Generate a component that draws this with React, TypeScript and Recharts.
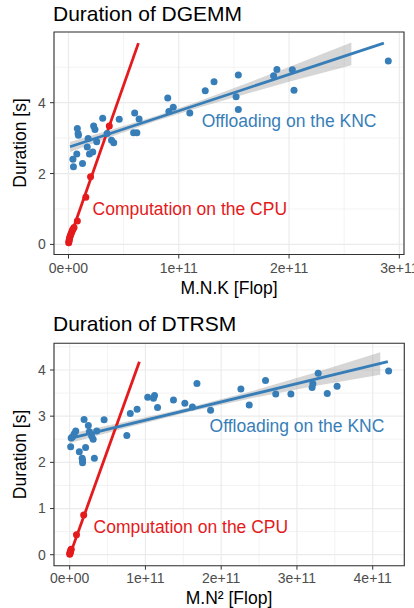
import React from 'react';
import {
  ComposedChart,
  Scatter,
  Line,
  Area,
  XAxis,
  YAxis,
  CartesianGrid,
  ReferenceArea,
  ReferenceDot,
} from 'recharts';

const BLUE = '#377EB8';
const RED = '#E41A1C';
const FONT = '"Liberation Sans", Arial, Helvetica, sans-serif';

// ---------- DGEMM (x: M.N.K in units of 1e11 Flop, y: duration in s) ----------
const dgemmKncX = [0.04, 0.045, 0.08, 0.087, 0.09, 0.075, 0.127, 0.178, 0.17, 0.19, 0.22, 0.228, 0.24, 0.256, 0.31, 0.35, 0.39, 0.41, 0.46, 0.6, 0.59, 0.62, 0.64, 0.9, 0.91, 0.95, 1.1, 1.24, 1.32, 1.52, 1.54, 1.54, 1.86, 1.89, 2.03, 2.045, 2.9];
const dgemmKncY = [2.4, 2.19, 3.27, 3.13, 3.08, 2.55, 2.28, 2.99, 2.75, 2.55, 2.61, 3.34, 3.24, 2.9, 3.56, 3.13, 2.94, 2.87, 3.53, 3.71, 3.15, 3.15, 3.54, 4.13, 3.75, 3.87, 3.71, 4.34, 4.59, 4.17, 4.78, 3.81, 4.76, 4.94, 4.93, 4.35, 5.18];
const dgemmCpuX = [0.002, 0.004, 0.007, 0.01, 0.015, 0.02, 0.027, 0.033, 0.04, 0.05, 0.08, 0.157, 0.2, 0.37];
const dgemmCpuY = [0.05, 0.09, 0.13, 0.18, 0.23, 0.28, 0.33, 0.38, 0.43, 0.48, 0.66, 1.33, 1.91, 3.34];
const dgemmKncFitX = [0.014, 2.86];
const dgemmKncFitY = [2.755, 5.68];
const dgemmCpuFitX = [0, 0.634];
const dgemmCpuFitY = [0.07, 5.68];
const dgemmBandX = [0.014, 0.4, 0.8, 1.2, 1.6, 2.0, 2.565];
const dgemmBandLo = [2.61, 3.05, 3.49, 3.88, 4.24, 4.59, 5.06];
const dgemmBandHi = [2.89, 3.25, 3.63, 4.06, 4.53, 5.01, 5.7];
const dgemmXTicks = [0, 1, 2, 3];
const dgemmXMinor = [0.5, 1.5, 2.5];
const dgemmYTicks = [0, 2, 4];
const dgemmYMinor = [1, 3, 5];

// ---------- DTRSM (x: M.N² in units of 1e11 Flop, y: duration in s) ----------
const dtrsmKncX = [0.013, 0.02, 0.035, 0.06, 0.08, 0.127, 0.165, 0.17, 0.17, 0.19, 0.21, 0.246, 0.26, 0.29, 0.31, 0.326, 0.357, 0.454, 0.754, 0.8, 0.89, 1.03, 1.106, 1.12, 1.16, 1.37, 1.52, 1.62, 1.68, 1.86, 2.26, 2.37, 2.585, 2.72, 2.92, 3.2, 3.21, 3.28, 3.4, 3.53, 4.21];
const dtrsmKncY = [2.34, 2.53, 2.55, 2.62, 2.68, 2.23, 2.09, 1.99, 2.04, 2.93, 2.32, 2.8, 2.66, 2.57, 2.5, 2.09, 2.68, 2.92, 2.58, 3.06, 3.15, 3.41, 3.39, 3.45, 3.19, 3.35, 3.28, 3.2, 3.71, 3.13, 3.59, 3.24, 3.77, 3.48, 3.48, 3.62, 3.7, 3.93, 3.49, 3.65, 3.98];
const dtrsmCpuX = [0.001, 0.003, 0.006, 0.01, 0.015, 0.02, 0.09, 0.185];
const dtrsmCpuY = [0.01, 0.03, 0.05, 0.07, 0.1, 0.12, 0.43, 0.86];
const dtrsmKncFitX = [0.005, 4.2];
const dtrsmKncFitY = [2.52, 4.18];
const dtrsmCpuFitX = [0, 0.92];
const dtrsmCpuFitY = [-0.02, 4.18];
const dtrsmBandX = [0.005, 0.8, 1.6, 2.4, 3.2, 4.1];
const dtrsmBandLo = [2.42, 2.77, 3.1, 3.39, 3.645, 3.895];
const dtrsmBandHi = [2.62, 2.9, 3.2, 3.54, 3.925, 4.385];
const dtrsmXTicks = [0, 1, 2, 3, 4];
const dtrsmXMinor = [0.5, 1.5, 2.5, 3.5];
const dtrsmYTicks = [0, 1, 2, 3, 4];
const dtrsmYMinor = [0.5, 1.5, 2.5, 3.5, 4.5];

const zip = (xs: number[], ys: number[]) => xs.map((x, i) => ({ x, y: ys[i] }));
const band = (xs: number[], lo: number[], hi: number[]) => xs.map((x, i) => ({ x, lo: lo[i], hi: hi[i] }));

const fmtX = (v: number) => (v === 0 ? '0e+00' : `${v}e+11`);

const dotShape = (color: string) => (props: any) => (
  <circle cx={props.cx} cy={props.cy} r={3.5} fill={color} />
);

type PanelProps = {
  height: number;
  top: number;
  right: number;
  xAxisHeight: number;
  tickMarginX: number;
  xDomain: [number, number];
  yDomain: [number, number];
  xTicks: number[];
  xMinor: number[];
  yTicks: number[];
  yMinor: number[];
  knc: { x: number; y: number }[];
  cpu: { x: number; y: number }[];
  kncFit: { x: number; y: number }[];
  cpuFit: { x: number; y: number }[];
  ribbon: { x: number; lo: number; hi: number }[];
  kncLabel: { x: number; y: number };
  cpuLabel: { x: number; y: number };
};

const Panel = (p: PanelProps) => (
  <ComposedChart
    width={414}
    height={p.height}
    data={p.ribbon}
    margin={{ top: p.top, right: p.right, bottom: 0, left: 0 }}
  >
    <CartesianGrid
      stroke="#ebebeb"
      strokeWidth={0.6}
      horizontalValues={p.yMinor}
      verticalValues={p.xMinor}
    />
    <CartesianGrid stroke="#ebebeb" strokeWidth={1.2} />
    <XAxis
      type="number"
      dataKey="x"
      domain={p.xDomain}
      allowDataOverflow
      ticks={p.xTicks}
      interval={0}
      tickFormatter={fmtX}
      height={p.xAxisHeight}
      tickSize={4}
      tickMargin={p.tickMarginX}
      axisLine={false}
      tickLine={{ stroke: '#333333', strokeWidth: 1 }}
      tick={{ fill: '#4d4d4d', fontSize: 14 }}
    />
    <YAxis
      type="number"
      dataKey="y"
      domain={p.yDomain}
      allowDataOverflow
      ticks={p.yTicks}
      interval={0}
      width={54}
      tickSize={4}
      tickMargin={4.3}
      axisLine={false}
      tickLine={{ stroke: '#333333', strokeWidth: 1 }}
      tick={{ fill: '#4d4d4d', fontSize: 14 }}
    />
    <Scatter data={p.knc} dataKey="y" shape={dotShape(BLUE)} isAnimationActive={false} />
    <Scatter data={p.cpu} dataKey="y" shape={dotShape(RED)} isAnimationActive={false} />
    <Area
      dataKey={(d: any) => [d.lo, d.hi]}
      type="linear"
      stroke="none"
      fill="#999999"
      fillOpacity={0.4}
      isAnimationActive={false}
      activeDot={false}
    />
    <Line data={p.cpuFit} dataKey="y" type="linear" stroke={RED} strokeWidth={2.8} dot={false} activeDot={false} isAnimationActive={false} />
    <Line data={p.kncFit} dataKey="y" type="linear" stroke={BLUE} strokeWidth={2.8} dot={false} activeDot={false} isAnimationActive={false} />
    <ReferenceDot
      x={p.kncLabel.x}
      y={p.kncLabel.y}
      r={0}
      fill="none"
      stroke="none"
      label={{ value: 'Offloading on the KNC', position: 'center', fill: BLUE, fontSize: 17.5 }}
    />
    <ReferenceDot
      x={p.cpuLabel.x}
      y={p.cpuLabel.y}
      r={0}
      fill="none"
      stroke="none"
      label={{ value: 'Computation on the CPU', position: 'center', fill: RED, fontSize: 17.5 }}
    />
    <ReferenceArea
      x1={p.xDomain[0]}
      x2={p.xDomain[1]}
      y1={p.yDomain[0]}
      y2={p.yDomain[1]}
      fill="none"
      fillOpacity={0}
      stroke="#333333"
      strokeWidth={1.1}
      ifOverflow="visible"
    />
  </ComposedChart>
);

export default function App() {
  return (
    <div
      style={{
        position: 'absolute',
        left: 0,
        top: 0,
        width: 414,
        height: 608,
        background: '#ffffff',
        fontFamily: FONT,
        overflow: 'hidden',
      }}
    >
      <div style={{ position: 'absolute', left: 0, top: 0 }}>
        <Panel
          height={300}
          top={32}
          right={10}
          xAxisHeight={45.5}
          tickMarginX={4.5}
          xDomain={[-0.1315, 3.0425]}
          yDomain={[-0.285, 5.995]}
          xTicks={dgemmXTicks}
          xMinor={dgemmXMinor}
          yTicks={dgemmYTicks}
          yMinor={dgemmYMinor}
          knc={zip(dgemmKncX, dgemmKncY)}
          cpu={zip(dgemmCpuX, dgemmCpuY)}
          kncFit={zip(dgemmKncFitX, dgemmKncFitY)}
          cpuFit={zip(dgemmCpuFitX, dgemmCpuFitY)}
          ribbon={band(dgemmBandX, dgemmBandLo, dgemmBandHi)}
          kncLabel={{ x: 2.0, y: 3.5 }}
          cpuLabel={{ x: 1.1, y: 1.0 }}
        />
      </div>
      <div style={{ position: 'absolute', left: 0, top: 300 }}>
        <Panel
          height={308}
          top={43.3}
          right={9.7}
          xAxisHeight={42.3}
          tickMarginX={3.8}
          xDomain={[-0.207, 4.417]}
          yDomain={[-0.238, 4.578]}
          xTicks={dtrsmXTicks}
          xMinor={dtrsmXMinor}
          yTicks={dtrsmYTicks}
          yMinor={dtrsmYMinor}
          knc={zip(dtrsmKncX, dtrsmKncY)}
          cpu={zip(dtrsmCpuX, dtrsmCpuY)}
          kncFit={zip(dtrsmKncFitX, dtrsmKncFitY)}
          cpuFit={zip(dtrsmCpuFitX, dtrsmCpuFitY)}
          ribbon={band(dtrsmBandX, dtrsmBandLo, dtrsmBandHi)}
          kncLabel={{ x: 3.0, y: 2.8 }}
          cpuLabel={{ x: 1.6, y: 0.6 }}
        />
      </div>
      <svg
        width={414}
        height={608}
        style={{ position: 'absolute', left: 0, top: 0, pointerEvents: 'none' }}
      >
        <text x={53} y={21} fontSize={21} fill="#000000">Duration of DGEMM</text>
        <text x={53} y={331} fontSize={21} fill="#000000">Duration of DTRSM</text>
        <text x={229} y={294} fontSize={17.5} fill="#000000" textAnchor="middle">M.N.K [Flop]</text>
        <text x={229} y={604} fontSize={17.5} fill="#000000" textAnchor="middle">M.N² [Flop]</text>
        <text x={25.5} y={143} fontSize={17.5} fill="#000000" textAnchor="middle" transform="rotate(-90 25.5 143)">Duration [s]</text>
        <text x={25.5} y={454.5} fontSize={17.5} fill="#000000" textAnchor="middle" transform="rotate(-90 25.5 454.5)">Duration [s]</text>
      </svg>
    </div>
  );
}
